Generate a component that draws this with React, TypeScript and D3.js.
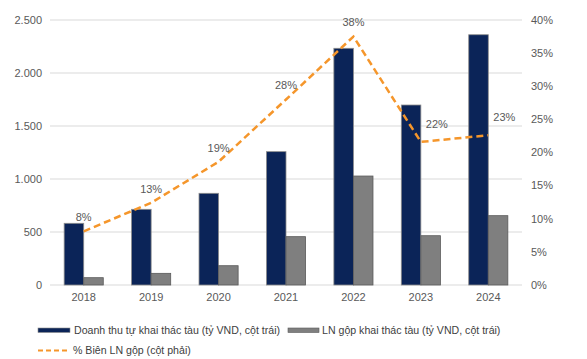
import React from "react";
import * as d3 from "d3";

const categories = ["2018", "2019", "2020", "2021", "2022", "2023", "2024"];
const revenue = [582, 714, 865, 1258, 2233, 1698, 2361];
const grossProfit = [69, 110, 182, 456, 1028, 465, 654];
const margin = [8.1, 12.4, 18.6, 28.0, 37.5, 21.6, 22.6];
const marginLabels = ["8%", "13%", "19%", "28%", "38%", "22%", "23%"];
const leftTicks = [0, 500, 1000, 1500, 2000, 2500];
const rightTicks = [0, 5, 10, 15, 20, 25, 30, 35, 40];
const legendLabels = [
  "Doanh thu tự khai thác tàu (tỷ VND, cột trái)",
  "LN gộp khai thác tàu (tỷ VND, cột trái)",
  "% Biên LN gộp (cột phải)",
];

const W = 587;
const H = 359;
const NAVY = "#0B2458";
const GRAY = "#7F7F7F";
const ORANGE = "#F5962B";
const TEXT = "#595959";
const FONT = "'Liberation Sans', Arial, sans-serif";

export default function App() {
  const x = d3.scaleBand().domain(categories).range([50, 522]).padding(0);
  const yL = d3.scaleLinear().domain([0, 2500]).range([285, 20]);
  const yR = d3.scaleLinear().domain([0, 40]).range([285, 20]);
  const fmt = (v: number) => d3.format(",")(v).replace(/,/g, ".");
  const bw = x.bandwidth() * 0.29;
  const cx = (c: string) => (x(c) as number) + x.bandwidth() / 2;
  const line = d3
    .line<number>()
    .x((_, i) => cx(categories[i]))
    .y((d) => yR(d));

  return (
    <svg
      width={W}
      height={H}
      style={{ position: "absolute", left: 0, top: 0, background: "#fff" }}
      fontFamily={FONT}
    >
      {leftTicks.map((t) => (
        <g key={"g" + t}>
          <line x1={50} x2={522} y1={yL(t)} y2={yL(t)} stroke="#D9D9D9" strokeWidth={1} />
          <text x={42} y={yL(t)} dy="0.35em" textAnchor="end" fontSize={11} fill={TEXT}>
            {fmt(t)}
          </text>
        </g>
      ))}
      {rightTicks.map((t) => (
        <text key={"r" + t} x={531} y={yR(t)} dy="0.35em" fontSize={11} fill={TEXT}>
          {t + "%"}
        </text>
      ))}
      {categories.map((c, i) => (
        <g key={c}>
          <rect
            x={cx(c) - bw}
            y={yL(revenue[i])}
            width={bw}
            height={yL(0) - yL(revenue[i])}
            fill={NAVY}
            stroke="#8C8C8C"
            strokeWidth={0.8}
          />
          <rect
            x={cx(c)}
            y={yL(grossProfit[i])}
            width={bw}
            height={yL(0) - yL(grossProfit[i])}
            fill={GRAY}
            stroke="#5A5A5A"
            strokeWidth={0.8}
          />
          <text x={cx(c)} y={297} dy="0.35em" textAnchor="middle" fontSize={11} fill={TEXT}>
            {c}
          </text>
        </g>
      ))}
      <path
        d={line(margin) || ""}
        fill="none"
        stroke={ORANGE}
        strokeWidth={2.5}
        strokeDasharray="7,4"
      />
      {margin.map((m, i) => {
        const shifted = i >= 5;
        return (
          <text
            key={"m" + i}
            x={cx(categories[i]) + (shifted ? 16 : 0)}
            y={yR(m) - (shifted ? 18 : 14)}
            dy="0.35em"
            textAnchor="middle"
            fontSize={11}
            fill={TEXT}
          >
            {marginLabels[i]}
          </text>
        );
      })}
      {/* legend */}
      <rect x={38} y={328} width={32} height={4.5} fill={NAVY} stroke="#8C8C8C" strokeWidth={0.6} />
      <text x={74} y={330.5} dy="0.35em" fontSize={10.6} fill="#404040">
        {legendLabels[0]}
      </text>
      <rect x={288} y={328} width={31} height={4.5} fill={GRAY} stroke="#5A5A5A" strokeWidth={0.6} />
      <text x={322} y={330.5} dy="0.35em" fontSize={10.6} fill="#404040">
        {legendLabels[1]}
      </text>
      <line x1={38} x2={70} y1={350.5} y2={350.5} stroke={ORANGE} strokeWidth={2} strokeDasharray="5,3" />
      <text x={73} y={350.5} dy="0.35em" fontSize={10.6} fill="#404040">
        {legendLabels[2]}
      </text>
    </svg>
  );
}
